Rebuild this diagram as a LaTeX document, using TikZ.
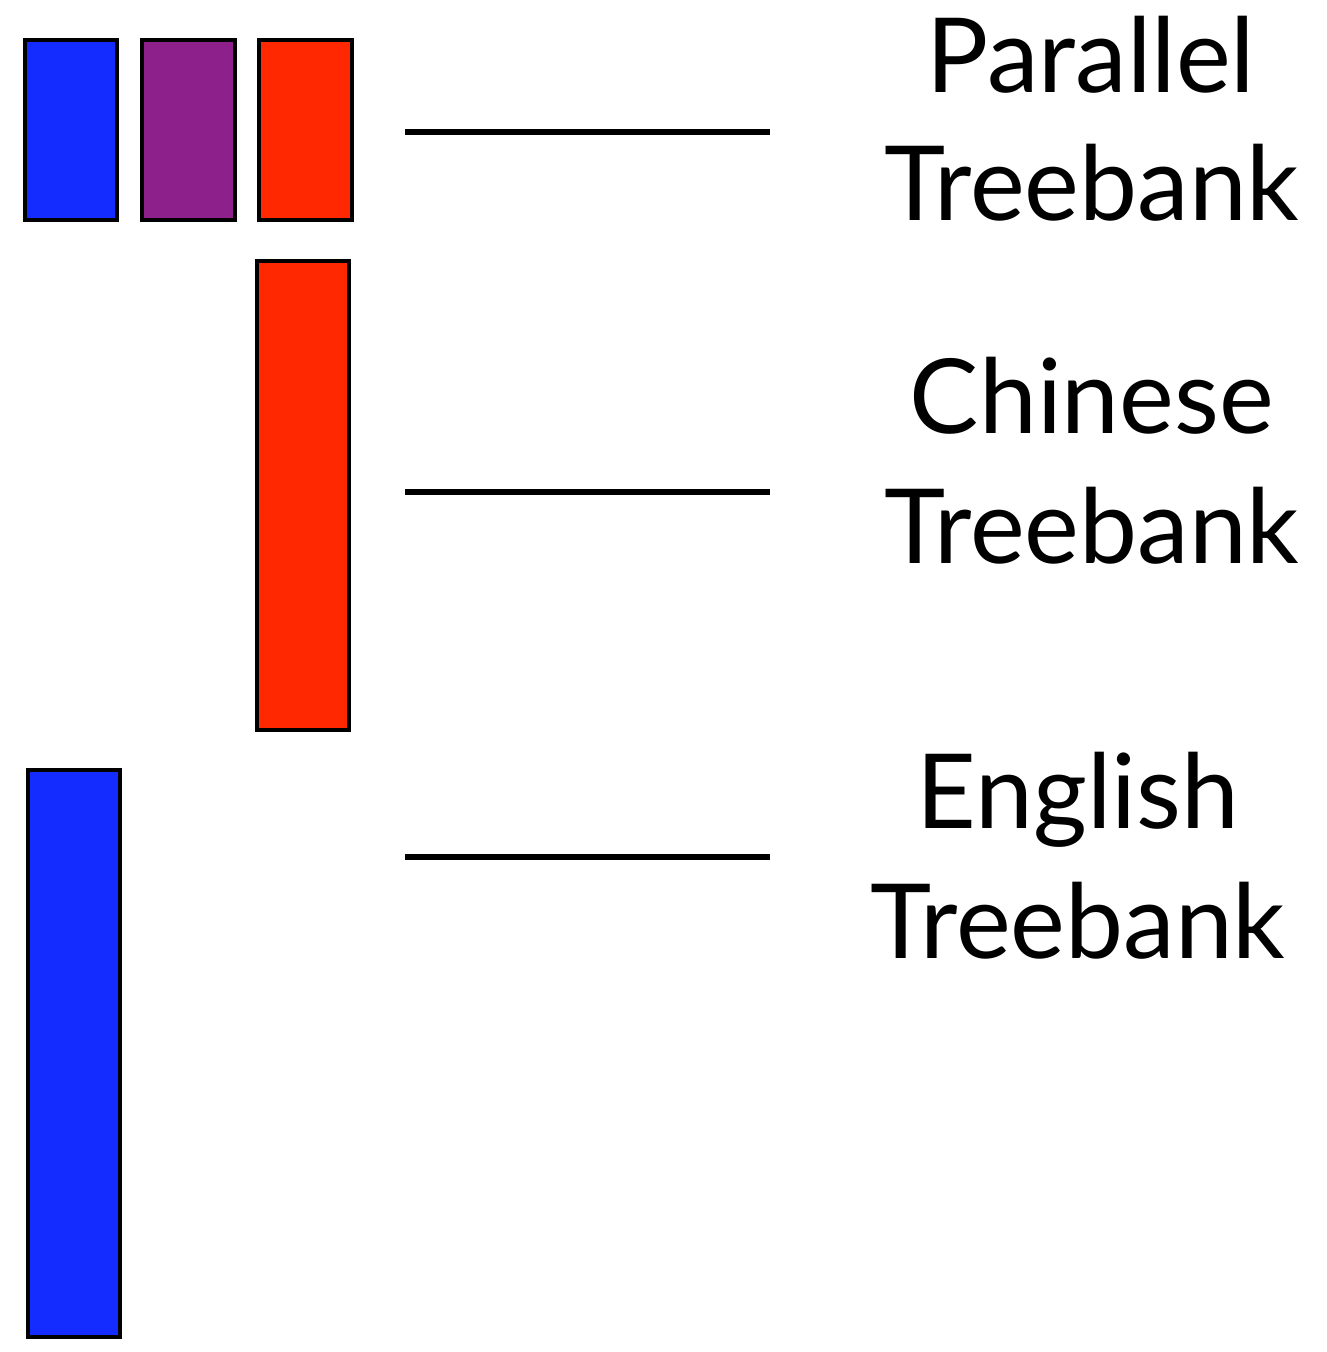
\documentclass[tikz,border=0pt]{standalone}
\usepackage{fontspec}
\setmainfont{Lato}
\definecolor{cblue}{RGB}{20,44,255}
\definecolor{cpurple}{RGB}{142,32,140}
\definecolor{cred}{RGB}{255,40,0}
\tikzset{
  bar/.style={draw=black, line width=2.2pt},
  rule/.style={line width=3.4pt},
  lab/.style={anchor=base, inner sep=0pt, font=\fontsize{59}{74}\selectfont},
}
\begin{document}
\begin{tikzpicture}[x=0.02cm,y=-0.02cm]
\useasboundingbox (0,0) rectangle (1326,1352);
% bars
\draw[bar, fill=cblue] (25,40) rectangle (117,220);
\draw[bar, fill=cpurple] (142,40) rectangle (235,220);
\draw[bar, fill=cred] (259,40) rectangle (352,220);
\draw[bar, fill=cred] (257,261) rectangle (349,730);
\draw[bar, fill=cblue] (28,770) rectangle (120,1337);
% rules
\coordinate (l1a) at (405,132); \coordinate (l1b) at (770,132);
\coordinate (l2a) at (405,492); \coordinate (l2b) at (770,492);
\coordinate (l3a) at (405,857); \coordinate (l3b) at (770,857);
\draw[rule] (l1a) -- (l1b);
\draw[rule] (l2a) -- (l2b);
\draw[rule] (l3a) -- (l3b);
% labels
\node[lab] (p1) at (1091,92) {Parallel};
\node[lab] (p2) at (1092,220) {Treebank};
\node[lab] (c1) at (1092,433) {Chinese};
\node[lab] (c2) at (1092,563) {Treebank};
\node[lab] (e1) at (1078,828) {English};
\node[lab] (e2) at (1078,958) {Treebank};
\end{tikzpicture}
\end{document}
